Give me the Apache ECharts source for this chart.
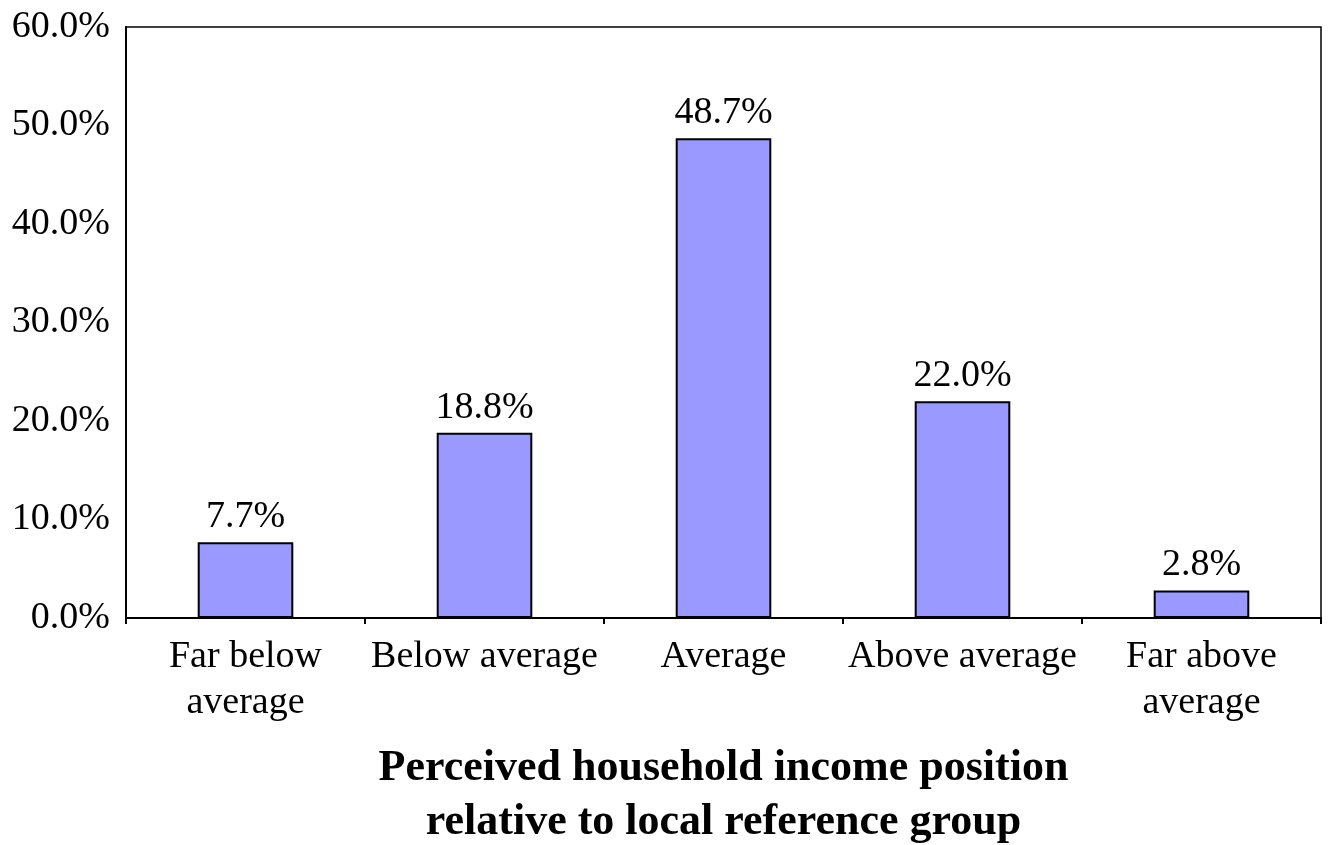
<!DOCTYPE html>
<html>
<head>
<meta charset="utf-8">
<script src="https://cdn.jsdelivr.net/npm/echarts@6/dist/echarts.min.js"></script>
<style>
html,body{margin:0;padding:0;background:#fff;}
#chart{width:1331px;height:845px;}
</style>
</head>
<body>
<div id="chart"></div>
<script>
const categories = ['Far below\naverage', 'Below average', 'Average', 'Above average', 'Far above\naverage'];
const values = [7.7, 18.8, 48.7, 22.0, 2.8];
const axisTitle = 'Perceived household income position\nrelative to local reference group';

const FONT = '"Liberation Serif", "Times New Roman", serif';
const chart = echarts.init(document.getElementById('chart'), null, {renderer: 'canvas'});
chart.setOption({
  backgroundColor: '#fff',
  animation: false,
  grid: {
    left: 126, right: 10, top: 27, bottom: 227,
    outerBoundsMode: 'none', containLabel: false,
    show: true, borderColor: '#000', borderWidth: 1.5, backgroundColor: 'transparent'
  },
  xAxis: {
    type: 'category',
    data: categories,
    axisLine: {lineStyle: {color: '#000', width: 2}},
    axisTick: {show: true, length: 6, lineStyle: {color: '#000', width: 2}},
    axisLabel: {color: '#000', fontFamily: FONT, fontSize: 38, margin: 16, lineHeight: 46, interval: 0},
    name: axisTitle,
    nameLocation: 'middle',
    nameGap: 124,
    nameTextStyle: {color: '#000', fontFamily: FONT, fontSize: 44, fontWeight: 'bold', lineHeight: 54}
  },
  yAxis: {
    type: 'value',
    min: 0, max: 60, interval: 10,
    axisLine: {show: true, lineStyle: {color: '#000', width: 2}},
    axisTick: {show: false},
    splitLine: {show: false},
    axisLabel: {color: '#000', fontFamily: FONT, fontSize: 38, margin: 16,
      formatter: v => v.toFixed(1) + '%'}
  },
  series: [{
    type: 'bar',
    data: values,
    barWidth: '40%',
    itemStyle: {color: '#9999FF', borderColor: '#000', borderWidth: 2},
    label: {show: true, position: 'top', distance: 6, color: '#000', fontFamily: FONT, fontSize: 38,
      formatter: p => p.value.toFixed(1) + '%'}
  }]
});
</script>
</body>
</html>
